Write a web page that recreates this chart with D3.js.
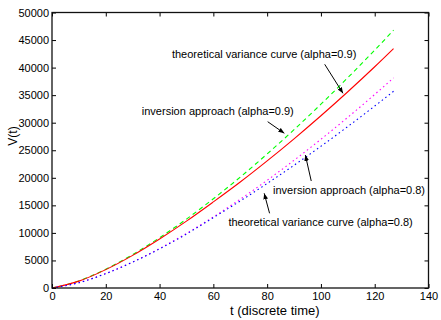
<!DOCTYPE html>
<html>
<head>
<meta charset="utf-8">
<script src="https://cdn.jsdelivr.net/npm/d3@7"></script>
<style>
  body { margin: 0; background: #fff; }
  svg { display: block; font-family: "Liberation Sans", Arial, Helvetica, sans-serif; }
</style>
</head>
<body>
<svg id="chart" width="441" height="320"></svg>
<script>
// valeurs (t en pas discrets)
const tValues = [0, 10, 20, 30, 40, 50, 60, 70, 80, 90, 100, 110, 120, 127];
const invAlpha09 = [0, 1283, 3420, 6071, 9122, 12508, 16190, 20136, 24324, 28736, 33357, 38174, 43175, 46780];
const theoAlpha09 = [0, 1251, 3335, 5919, 8894, 12133, 15623, 19230, 23059, 27069, 31255, 35616, 40153, 43450];
const invAlpha08 = [0, 967, 2635, 4736, 7178, 9910, 12899, 16117, 19548, 23178, 26992, 30978, 35128, 38130];
const theoAlpha08 = [0, 960, 2610, 4690, 7100, 9800, 12770, 15795, 18962, 22274, 25723, 29305, 33020, 35700];

const xTicks = [0, 20, 40, 60, 80, 100, 120, 140];
const yTicks = [0, 5000, 10000, 15000, 20000, 25000, 30000, 35000, 40000, 45000, 50000];

// notes : texte + flèche, en coordonnées des données
const notes = [
    {text: "theoretical variance curve (alpha=0.9)", tx: 44.6, ty: 41700, from: [101.4, 40600], to: [108.2, 35336]},
    {text: "inversion approach (alpha=0.9)", tx: 33.4, ty: 31400, from: [80.2, 30182], to: [86.4, 28077]},
    {text: "inversion approach (alpha=0.8)", tx: 82.2, ty: 17060, from: [96.4, 19420], to: [94.2, 24138]},
    {text: "theoretical variance curve (alpha=0.8)", tx: 65.6, ty: 11250, from: [80.9, 13557], to: [78.9, 17187]}
];

const svg = d3.select("#chart");
const mLeft = 52, mRight = 428.5, mTop = 12.5, mBottom = 288;

let x = d3.scaleLinear().domain([0, 140]).range([mLeft, mRight]);
let y = d3.scaleLinear().domain([0, 50000]).range([mBottom, mTop]);

svg.append("defs").append("marker")
    .attr("id", "arrow")
    .attr("viewBox", "0 0 10 10")
    .attr("refX", 10).attr("refY", 5)
    .attr("markerWidth", 6).attr("markerHeight", 6)
    .attr("markerUnits", "userSpaceOnUse")
    .attr("orient", "auto")
    .append("path")
    .attr("d", "M0,1 L10,5 L0,9 Z")
    .attr("fill", "#000");

let series = [
    {values: invAlpha09, color: "#00ff00", dash: "4.5,3.5"},
    {values: theoAlpha09, color: "#ff0000", dash: null},
    {values: invAlpha08, color: "#ff00ff", dash: "1.5,3"},
    {values: theoAlpha08, color: "#0000ff", dash: "1.5,3"}
];

let lineGen = d3.line()
    .x(d => x(d[0]))
    .y(d => y(d[1]))
    .curve(d3.curveMonotoneX);

series.forEach(function(s) {
    svg.append("path")
        .attr("class", "line")
        .attr("d", lineGen(tValues.map((t, i) => [t, s.values[i]])))
        .attr("fill", "none")
        .attr("stroke", s.color)
        .attr("stroke-width", 1.1)
        .attr("stroke-dasharray", s.dash);
});

// axes, ticks vers l'intérieur sur les 4 côtés
function styleAxis(g) {
    g.select(".domain").remove();
    g.selectAll(".tick line").attr("stroke", "#000");
    g.selectAll(".tick text").attr("fill", "#000").style("font-size", "11px");
}

svg.append("g")
    .attr("transform", "translate(0," + mBottom + ")")
    .call(d3.axisBottom(x).tickValues(xTicks).tickSize(-4).tickPadding(4).tickFormat(d3.format("d")))
    .call(styleAxis);

svg.append("g")
    .attr("transform", "translate(0," + mTop + ")")
    .call(d3.axisTop(x).tickValues(xTicks).tickSize(-4).tickFormat(""))
    .call(styleAxis);

svg.append("g")
    .attr("transform", "translate(" + mLeft + ",0)")
    .call(d3.axisLeft(y).tickValues(yTicks).tickSize(-4).tickPadding(3).tickFormat(d3.format("d")))
    .call(styleAxis);

svg.append("g")
    .attr("transform", "translate(" + mRight + ",0)")
    .call(d3.axisRight(y).tickValues(yTicks).tickSize(-4).tickFormat(""))
    .call(styleAxis);

svg.append("rect")
    .attr("x", mLeft).attr("y", mTop)
    .attr("width", mRight - mLeft).attr("height", mBottom - mTop)
    .attr("fill", "none")
    .attr("stroke", "#111")
    .attr("stroke-width", 1.3);

notes.forEach(function(n) {
    svg.append("text")
        .attr("x", x(n.tx))
        .attr("y", y(n.ty))
        .style("font-size", "11px")
        .attr("fill", "#000")
        .text(n.text);

    svg.append("line")
        .attr("x1", x(n.from[0])).attr("y1", y(n.from[1]))
        .attr("x2", x(n.to[0])).attr("y2", y(n.to[1]))
        .attr("stroke", "#000")
        .attr("stroke-width", 1)
        .attr("marker-end", "url(#arrow)");
});

svg.append("text")
    .attr("x", 230)
    .attr("y", 315)
    .style("font-size", "13px")
    .text("t (discrete time)");

svg.append("text")
    .attr("transform", "translate(17,136) rotate(-90)")
    .attr("text-anchor", "middle")
    .style("font-size", "12px")
    .text("V(t)");
</script>
</body>
</html>
